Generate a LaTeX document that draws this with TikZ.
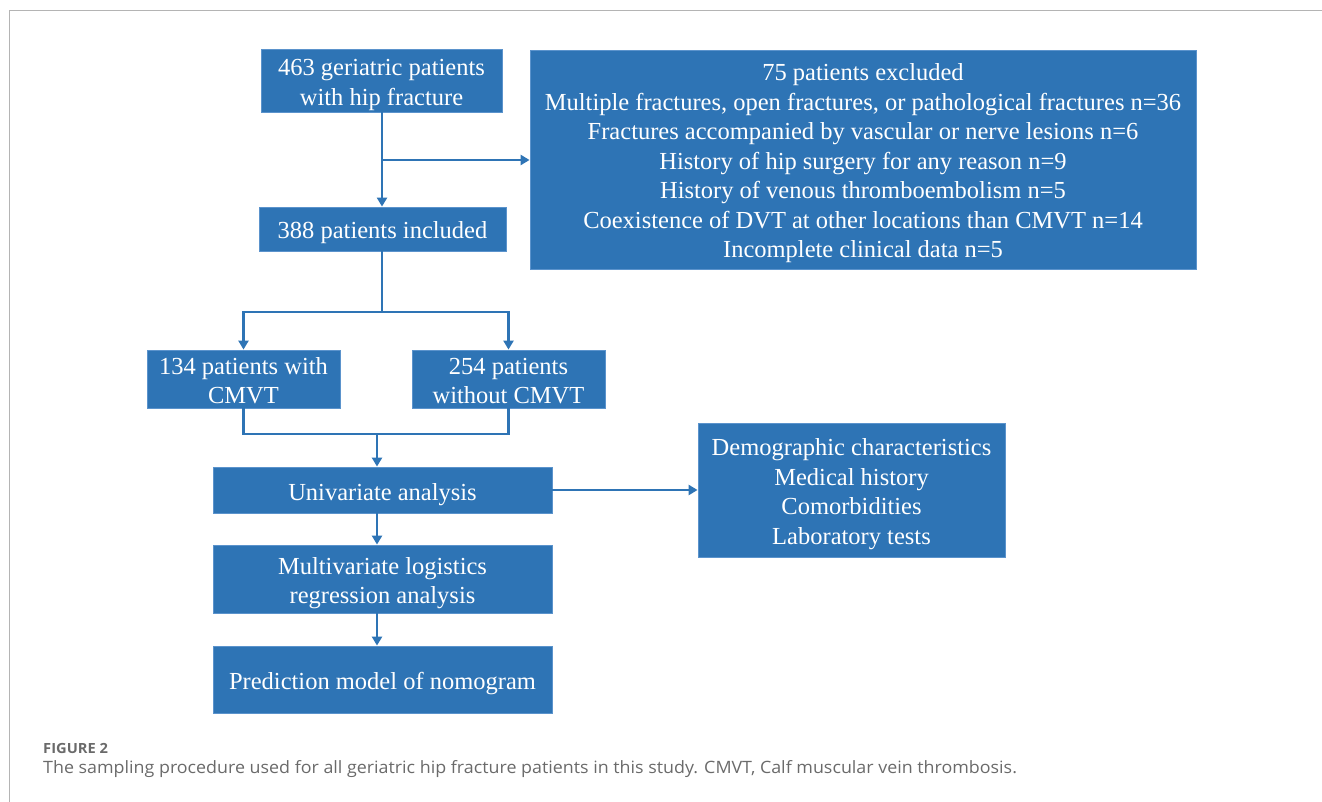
\documentclass[tikz,border=0pt]{standalone}
\usepackage{fontspec}
\setmainfont{Liberation Serif}
\newfontfamily\capfont[FakeStretch=1.05]{Open Sans}
\usetikzlibrary{arrows.meta}
\definecolor{boxblue}{HTML}{2E74B5}
\definecolor{edgeblue}{HTML}{5B93CC}
\definecolor{framegray}{HTML}{B4B4B4}
\definecolor{capgray}{HTML}{6A6A6A}
\tikzset{
  box/.style={rectangle, fill=boxblue, draw=edgeblue, line width=0.8pt, text=white,
    align=center, inner sep=0pt, font=\fontsize{24.5}{29.5}\selectfont},
  lA/.style={text height=20pt, text depth=0pt},
  lB/.style={text height=49.5pt, text depth=0pt},
  lD/.style={text height=108.5pt, text depth=0pt},
  lG/.style={text height=197pt, text depth=0pt},
  link/.style={draw=boxblue, line width=2.6pt},
  arr/.style={link, -{Triangle[length=9pt,width=10pt]}},
}
\begin{document}
\begin{tikzpicture}[x=1pt,y=-1pt]
\useasboundingbox (0,0) rectangle (1322,802);
% frame
\draw[framegray, line width=1.5pt] (9.5,10.5) -- (1322,10.5);
\draw[framegray, line width=1.2pt] (9.5,10.5) -- (9.5,802);
% boxes
\node[box, lB, minimum width=241pt, minimum height=63pt] (A) at (381.5,80.5) {463 geriatric patients\\with hip fracture};
\node[box, lG, minimum width=666pt, minimum height=219pt] (X) at (863,159.5) {75 patients excluded\\
Multiple fractures, open fractures, or pathological fractures n=36\\
Fractures accompanied by vascular or nerve lesions n=6\\
History of hip surgery for any reason n=9\\
History of venous thromboembolism n=5\\
Coexistence of DVT at other locations than CMVT n=14\\
Incomplete clinical data n=5};
\node[box, lA, minimum width=247pt, minimum height=44pt] (B) at (382.5,229) {388 patients included};
\node[box, lB, minimum width=193pt, minimum height=58pt] (C) at (243.5,379) {134 patients with\\CMVT};
\node[box, lB, minimum width=193pt, minimum height=58pt] (D) at (508.5,379) {254 patients\\without CMVT};
\node[box, lA, minimum width=339pt, minimum height=46pt] (E) at (382.5,490) {Univariate analysis};
\node[box, lB, minimum width=339pt, minimum height=68pt] (F) at (382.5,579) {Multivariate logistics\\regression analysis};
\node[box, lA, minimum width=339pt, minimum height=67pt] (G) at (382.5,679.5) {Prediction model of nomogram};
\node[box, lD, minimum width=307pt, minimum height=134pt] (H) at (851.5,490) {Demographic characteristics\\Medical history\\Comorbidities\\Laboratory tests};
% connectors
\coordinate (br) at (382,160);
\coordinate (sp) at (382,312);
\coordinate (mg) at (377,434);
\draw[arr] (A.south -| br) -- (B.north -| br);
\draw[arr] (br) -- (br -| X.west);
\draw[link] (B.south -| sp) -- (sp);
\draw[arr] (sp) -| (C.north);
\draw[arr] (sp) -| (D.north);
\draw[link] (C.south) |- (mg);
\draw[link] (D.south) |- (mg);
\draw[arr] (mg) -- (mg |- E.north);
\draw[arr] (E.south -| mg) -- (F.north -| mg);
\draw[arr] (F.south -| mg) -- (G.north -| mg);
\draw[arr] (E.east) -- (H.west);
% caption
\node[anchor=base west, inner sep=0pt, text=capgray, font=\capfont\fontsize{14}{16}\selectfont\bfseries] (cap1) at (43,753) {FIGURE 2};
\node[anchor=base west, inner sep=0pt, text=capgray, font=\capfont\fontsize{17}{20}\selectfont] (cap2) at (43,773) {The sampling procedure used for all geriatric hip fracture patients in this study. CMVT, Calf muscular vein thrombosis.};
\end{tikzpicture}
\end{document}
